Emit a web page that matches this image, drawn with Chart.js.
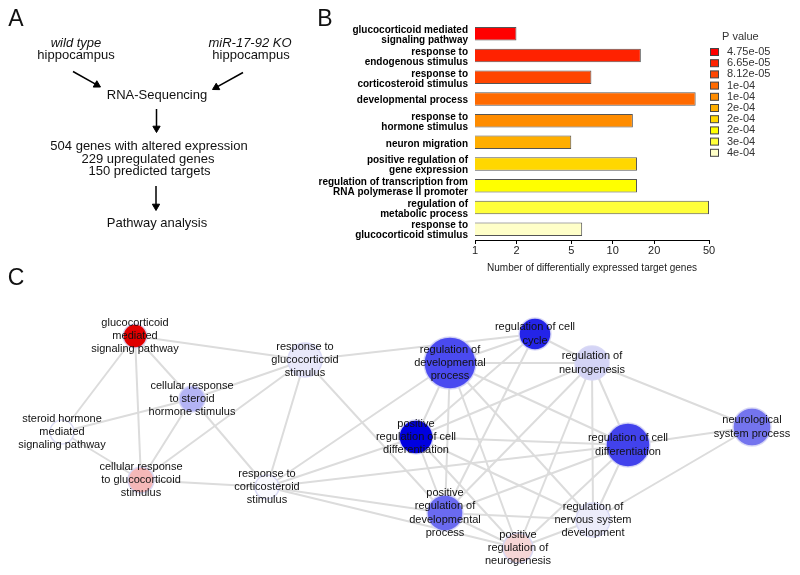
<!DOCTYPE html>
<html>
<head>
<meta charset="utf-8">
<script src="https://cdn.jsdelivr.net/npm/chart.js@4.4.1/dist/chart.umd.min.js"></script>
<style>
body { margin: 0; background: #fff; width: 800px; height: 575px; position: relative; overflow: hidden; }
canvas { position: absolute; }
#panelA { left: 0; top: 0; }
#panelB { left: 300px; top: 0; }
#panelC { left: 0; top: 260px; }
</style>
</head>
<body>
<canvas id="panelA" width="340" height="260"></canvas>
<canvas id="panelC" width="800" height="315"></canvas>
<canvas id="panelB" width="500" height="280"></canvas>
<script>
// ---- panel B data
const goTerms = [
  ['glucocorticoid mediated', 'signaling pathway'],
  ['response to', 'endogenous stimulus'],
  ['response to', 'corticosteroid stimulus'],
  'developmental process',
  ['response to', 'hormone stimulus'],
  'neuron migration',
  ['positive regulation of', 'gene expression'],
  ['regulation of transcription from', 'RNA polymerase II promoter'],
  ['regulation of', 'metabolic process'],
  ['response to', 'glucocorticoid stimulus']
];
const geneCounts = [2, 16, 7, 40, 14, 5, 15, 15, 50, 6];
const pValues = ['4.75e-05', '6.65e-05', '8.12e-05', '1e-04', '1e-04', '2e-04', '2e-04', '2e-04', '3e-04', '4e-04'];
const xTicks = [1, 2, 5, 10, 20, 50];
const barColors = ['#ff0000', '#ff2200', '#ff4500', '#ff6a00', '#ff8c00', '#ffae00', '#ffd700', '#ffff00', '#ffff3a', '#ffffc8'];

// ---- panel C data (network)
const nodeNames = [
  ['glucocorticoid', 'mediated', 'signaling pathway'],
  ['response to', 'glucocorticoid', 'stimulus'],
  ['cellular response', 'to steroid', 'hormone stimulus'],
  ['steroid hormone', 'mediated', 'signaling pathway'],
  ['cellular response', 'to glucocorticoid', 'stimulus'],
  ['response to', 'corticosteroid', 'stimulus'],
  ['regulation of', 'developmental', 'process'],
  ['regulation of cell', 'cycle'],
  ['regulation of', 'neurogenesis'],
  ['positive', 'regulation of cell', 'differentiation'],
  ['regulation of cell', 'differentiation'],
  ['neurological', 'system process'],
  ['positive', 'regulation of', 'developmental', 'process'],
  ['regulation of', 'nervous system', 'development'],
  ['positive', 'regulation of', 'neurogenesis']
];
const nodeX = [135, 305, 192, 62, 141, 267, 450, 535, 592, 416, 628, 752, 445, 593, 518];
const nodeY = [336, 360, 399, 432, 480, 487, 363, 334, 363, 437, 445, 427, 513, 520, 548];
const nodeSize = [12, 17, 13, 12, 13, 12, 26, 16, 17, 17, 22, 19, 18, 17, 15];
const nodeColors = ['#e00000', '#e8e8fa', '#b4b4f4', '#ffffff', '#f4b8b8', '#fafaff', '#4a4af0', '#2424e8',
  '#d4d4f6', '#0000e0', '#4242ec', '#7474ee', '#6a6af0', '#ececfa', '#f6d6d6'];
const edges = [
  [0, 1], [0, 3], [0, 4], [0, 2],
  [1, 2], [1, 4], [1, 5], [1, 12], [1, 7],
  [2, 3], [2, 4], [2, 5], [3, 4], [4, 5],
  [5, 6], [5, 9], [5, 10], [5, 12], [5, 14],
  [6, 7], [6, 8], [6, 9], [6, 12], [6, 14], [6, 10], [6, 13],
  [7, 8], [7, 9], [7, 12],
  [8, 11], [8, 10], [8, 13], [8, 14], [8, 12], [8, 9],
  [9, 10], [9, 12], [9, 14], [9, 13],
  [10, 11], [10, 13], [10, 14], [10, 12],
  [11, 13], [12, 13], [12, 14], [13, 14]
];

// ---- panel A (workflow)
const flowText = [
  { t: 'wild type', x: 76, y: 43, it: true },
  { t: 'hippocampus', x: 76, y: 55 },
  { t: 'miR-17-92 KO', x: 250, y: 43, it: true },
  { t: 'hippocampus', x: 251, y: 55 },
  { t: 'RNA-Sequencing', x: 157, y: 95 },
  { t: '504 genes with altered expression', x: 149, y: 146.5 },
  { t: '229 upregulated genes', x: 148, y: 159 },
  { t: '150 predicted targets', x: 149.5, y: 171.5 },
  { t: 'Pathway analysis', x: 157, y: 223 }
];
const arrows = [[73, 71.5, 100.5, 87], [243, 72.5, 212.5, 89.5], [156.5, 109, 156.5, 132.5], [156, 186, 156, 210.5]];

const FONT = '"Liberation Sans", Arial, Helvetica, sans-serif';
Chart.defaults.font.family = FONT;

const textPlugin = {
  id: 'flowText',
  afterDatasetsDraw(chart) {
    const ctx = chart.ctx;
    ctx.save();
    ctx.fillStyle = '#111';
    ctx.textAlign = 'center';
    ctx.textBaseline = 'middle';
    flowText.forEach(d => {
      ctx.font = (d.it ? 'italic ' : '') + '13px ' + FONT;
      ctx.fillText(d.t, chart.scales.x.getPixelForValue(d.x), chart.scales.y.getPixelForValue(d.y));
    });
    ctx.font = '23px ' + FONT;
    ctx.fillText('A', 16, 20);
    ctx.fillText('B', 325, 20);
    ctx.restore();
  }
};

const arrowSets = arrows.map(a => {
  const dx = a[2] - a[0], dy = a[3] - a[1];
  const len = Math.hypot(dx, dy);
  const r = 4.2;
  const cx = a[2] - dx / len * r, cy = a[3] - dy / len * r;
  return {
    type: 'line',
    data: [{ x: a[0], y: a[1] }, { x: cx, y: cy }],
    borderColor: '#000',
    borderWidth: 1.5,
    pointRadius: [0, r],
    pointStyle: 'triangle',
    rotation: [0, Math.atan2(dx, -dy) * 180 / Math.PI],
    pointBackgroundColor: '#000',
    pointBorderColor: '#000',
    pointBorderWidth: 1,
    clip: false
  };
});

new Chart(document.getElementById('panelA'), {
  type: 'scatter',
  data: { datasets: arrowSets },
  options: {
    responsive: false, animation: false,
    layout: { padding: 0, autoPadding: false },
    scales: {
      x: { type: 'linear', min: 0, max: 340, display: false },
      y: { type: 'linear', min: 0, max: 260, reverse: true, display: false }
    },
    plugins: { legend: { display: false }, tooltip: { enabled: false } }
  },
  plugins: [textPlugin]
});

// ---- panel B
const pLegend = {
  id: 'pLegend',
  afterDraw(chart) {
    const ctx = chart.ctx;
    const x0 = chart.chartArea.right;
    ctx.save();
    ctx.textBaseline = 'middle';
    ctx.textAlign = 'left';
    ctx.fillStyle = '#333';
    ctx.font = '11px ' + FONT;
    ctx.fillText('P value', x0 + 13, 37);
    pValues.forEach((p, i) => {
      const y = 52 + i * 11.2;
      ctx.fillStyle = barColors[i];
      ctx.fillRect(x0 + 1.5, y - 3.5, 8, 7);
      ctx.strokeStyle = '#444';
      ctx.lineWidth = 1;
      ctx.strokeRect(x0 + 1.5, y - 3.5, 8, 7);
      ctx.fillStyle = '#333';
      ctx.fillText(p, x0 + 18, y);
    });
    ctx.restore();
  }
};

new Chart(document.getElementById('panelB'), {
  type: 'bar',
  data: {
    labels: goTerms,
    datasets: [{
      data: geneCounts,
      backgroundColor: barColors,
      borderColor: '#555',
      borderWidth: 1,
      barPercentage: 0.62,
      categoryPercentage: 1
    }]
  },
  options: {
    indexAxis: 'y',
    responsive: false, animation: false,
    layout: { padding: { top: 23, right: 91, left: 0, bottom: 6 }, autoPadding: false },
    scales: {
      x: {
        type: 'logarithmic', min: 1, max: 50,
        afterBuildTicks: s => { s.ticks = xTicks.map(v => ({ value: v })); },
        afterFit: s => { s.height = 34; },
        grid: { drawOnChartArea: false, tickLength: 4, color: '#000' },
        border: { color: '#000', width: 1 },
        ticks: { color: '#222', font: { size: 11 }, padding: 0, autoSkip: false, maxRotation: 0, callback: v => String(v) },
        title: { display: true, text: 'Number of differentially expressed target genes', color: '#222', font: { size: 10 }, padding: { top: 3, bottom: 0 } }
      },
      y: {
        afterFit: s => { s.width = 175; },
        grid: { display: false, drawTicks: false },
        border: { display: false },
        ticks: { color: '#000', autoSkip: false, labelOffset: 1.5, font: { size: 10, weight: 'bold', lineHeight: 1.0 }, padding: 7 }
      }
    },
    plugins: { legend: { display: false }, tooltip: { enabled: false } }
  },
  plugins: [pLegend]
});

// ---- panel C
const labelPlugin = {
  id: 'nodeLabels',
  afterDatasetsDraw(chart) {
    const ctx = chart.ctx;
    ctx.save();
    ctx.fillStyle = '#111';
    ctx.textAlign = 'center';
    ctx.textBaseline = 'middle';
    ctx.font = '11px ' + FONT;
    nodeNames.forEach((lines, i) => {
      const px = chart.scales.x.getPixelForValue(nodeX[i]);
      const py = chart.scales.y.getPixelForValue(nodeY[i]);
      const lh = 13.3;
      lines.forEach((l, j) => ctx.fillText(l, px, py + (j - (lines.length - 1) / 2) * lh));
    });
    ctx.font = '23px ' + FONT;
    ctx.fillText('C', 16, 19);
    ctx.restore();
  }
};

const edgeSets = edges.map(e => ({
  type: 'line',
  order: 1,
  data: [{ x: nodeX[e[0]], y: nodeY[e[0]] }, { x: nodeX[e[1]], y: nodeY[e[1]] }],
  borderColor: '#dcdcdc',
  borderWidth: 2,
  pointRadius: 0
}));

new Chart(document.getElementById('panelC'), {
  type: 'bubble',
  data: {
    datasets: [...edgeSets, {
      type: 'bubble',
      order: 0,
      data: nodeX.map((x, i) => ({ x: x, y: nodeY[i], r: nodeSize[i] })),
      backgroundColor: nodeColors,
      borderColor: 'rgba(215,215,245,0.9)',
      borderWidth: 1.5,
      clip: false
    }]
  },
  options: {
    responsive: false, animation: false,
    layout: { padding: 0, autoPadding: false },
    scales: {
      x: { type: 'linear', min: 0, max: 800, display: false },
      y: { type: 'linear', min: 260, max: 575, reverse: true, display: false }
    },
    plugins: { legend: { display: false }, tooltip: { enabled: false } }
  },
  plugins: [labelPlugin]
});
</script>
</body>
</html>
